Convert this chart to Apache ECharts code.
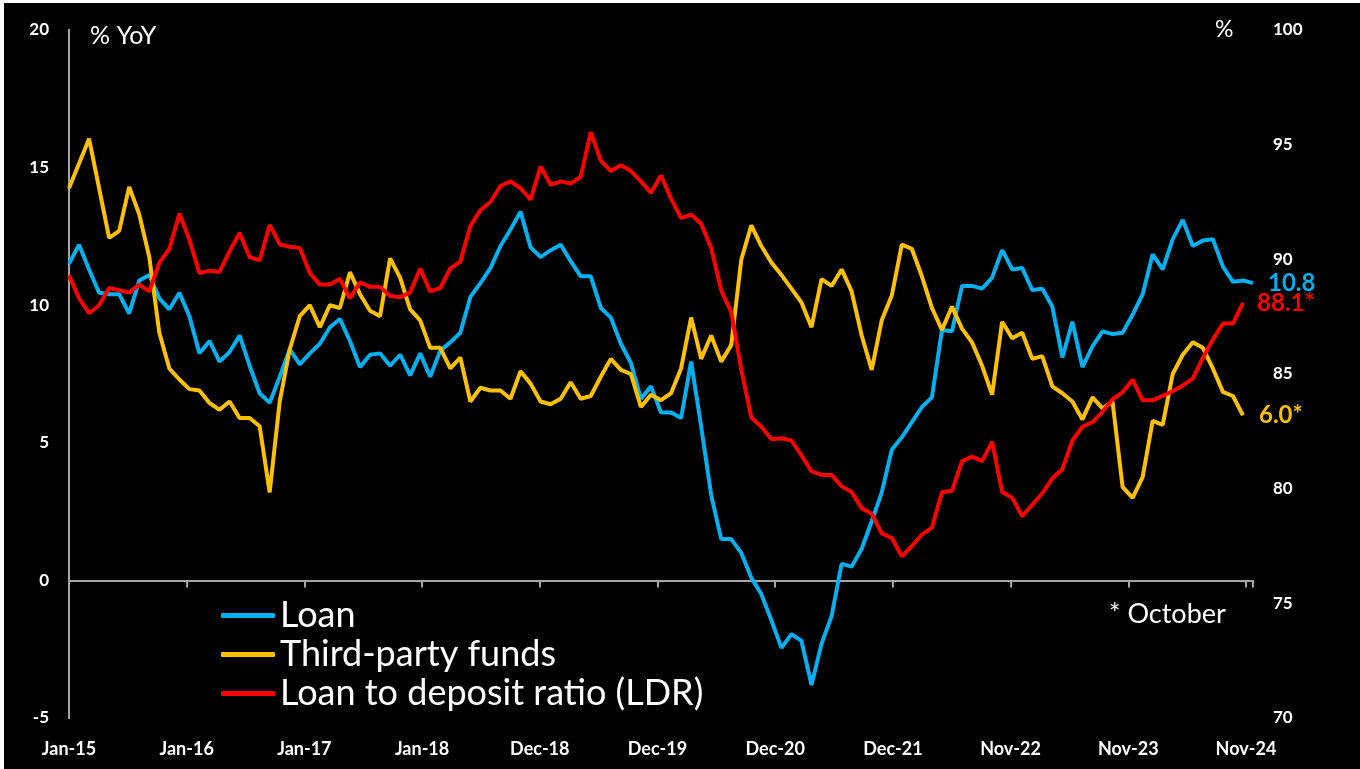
<!DOCTYPE html>
<html><head><meta charset="utf-8">
<script src="https://cdn.jsdelivr.net/npm/echarts@6/dist/echarts.min.js"></script>
<style>
html,body{margin:0;padding:0;background:#fff;width:1360px;height:769px;overflow:hidden;}
#c{position:absolute;left:4px;top:3px;width:1356px;height:766px;background:#000;}
</style></head><body><div id="c"></div>
<script>
// Monthly data, Jan-15 (index 0) to Nov-24 (index 118)
const tickLabels = ['Jan-15','Jan-16','Jan-17','Jan-18','Dec-18','Dec-19','Dec-20','Dec-21','Nov-22','Nov-23','Nov-24'];
const seriesNames = ['Loan','Third-party funds','Loan to deposit ratio (LDR)'];

const loan = [11.5,12.2,11.3,10.45,10.4,10.4,9.7,10.9,11.1,10.25,
 9.85,10.45,9.6,8.25,8.7,7.95,8.3,8.9,7.8,6.8,
 6.45,7.4,8.4,7.85,8.25,8.6,9.2,9.5,8.7,7.75,
 8.2,8.25,7.8,8.2,7.45,8.25,7.4,8.35,8.65,9.0,
 10.3,10.8,11.35,12.15,12.75,13.4,12.1,11.75,12.0,12.2,
 11.6,11.05,11.05,9.9,9.55,8.6,7.9,6.6,7.05,6.1,
 6.1,5.9,7.95,5.6,3.1,1.5,1.5,1.0,0.1,-0.5,
 -1.45,-2.45,-1.95,-2.2,-3.8,-2.3,-1.3,0.6,0.5,1.15,
 2.15,3.2,4.75,5.2,5.75,6.3,6.65,9.1,9.05,10.7,
 10.7,10.6,11.0,12.0,11.3,11.35,10.55,10.6,9.95,8.1,
 9.4,7.75,8.5,9.05,8.95,9.0,9.65,10.4,11.85,11.3,
 12.4,13.1,12.15,12.35,12.4,11.4,10.85,10.9,10.8];

const thirdPartyFunds = [14.25,15.15,16.05,14.25,12.45,12.7,14.3,13.3,11.75,9.0,
 7.7,7.3,6.95,6.9,6.45,6.2,6.5,5.9,5.9,5.6,
 3.2,6.5,8.4,9.6,10.0,9.2,10.0,9.9,11.2,10.4,
 9.8,9.6,11.7,11.0,9.85,9.45,8.45,8.45,7.7,8.1,
 6.5,7.0,6.9,6.9,6.6,7.6,7.15,6.5,6.4,6.6,
 7.2,6.6,6.7,7.4,8.05,7.65,7.5,6.3,6.75,6.55,
 6.8,7.7,9.55,8.05,8.9,7.95,8.55,11.65,12.9,12.15,
 11.55,11.1,10.6,10.1,9.2,10.95,10.7,11.3,10.5,8.9,
 7.65,9.45,10.35,12.2,12.05,11.05,9.9,9.1,9.95,9.15,
 8.65,7.8,6.75,9.4,8.8,9.0,8.05,8.15,7.05,6.8,
 6.5,5.85,6.65,6.25,6.5,3.4,3.0,3.75,5.8,5.65,
 7.5,8.2,8.65,8.45,7.7,6.85,6.7,6.0];

const ldr = [89.3,88.3,87.65,88.0,88.75,88.65,88.55,88.9,88.6,89.85,
 90.45,92.0,90.85,89.4,89.5,89.45,90.35,91.15,90.1,89.95,
 91.5,90.65,90.55,90.5,89.4,88.9,88.9,89.15,88.3,89.0,
 88.8,88.8,88.4,88.35,88.55,89.6,88.6,88.75,89.6,89.9,
 91.45,92.15,92.5,93.2,93.4,93.1,92.6,94.05,93.25,93.4,
 93.3,93.6,95.55,94.3,93.85,94.1,93.85,93.4,92.9,93.65,
 92.65,91.8,91.95,91.55,90.5,88.65,87.7,85.2,83.1,82.7,
 82.15,82.2,82.1,81.45,80.75,80.6,80.6,80.1,79.85,79.15,
 78.9,78.05,77.85,77.05,77.5,78.0,78.3,79.85,79.9,81.2,
 81.4,81.2,82.05,79.85,79.6,78.8,79.3,79.8,80.45,80.85,
 82.1,82.7,82.9,83.35,83.9,84.2,84.75,83.85,83.85,84.05,
 84.25,84.5,84.8,85.7,86.5,87.2,87.2,88.1];

const FONT = 'Lato';
const GREY = '#a6a6a6';
const toPairs = arr => arr.map((v, i) => [i, v]);
const X_MAX = 118, X_INT = 11.73;

const chart = echarts.init(document.getElementById('c'), null, {renderer: 'canvas'});
const xCommon = {type: 'value', min: 0, max: X_MAX, interval: X_INT, splitLine: {show: false}};
chart.setOption({
  backgroundColor: '#000',
  animation: false,
  textStyle: {fontFamily: FONT},
  grid: {left: 65, top: 27, width: 1184, height: 688},
  legend: {
    orient: 'vertical', left: 212, top: 588, itemGap: 0,
    itemWidth: 54, itemHeight: 5, icon: 'roundRect',
    textStyle: {color: '#fff', fontSize: 36, lineHeight: 39, fontFamily: FONT},
    data: seriesNames
  },
  xAxis: [
    Object.assign({}, xCommon, {
      position: 'bottom',
      axisLine: {show: true, onZero: true, onZeroAxisIndex: 0, lineStyle: {color: GREY, width: 2}},
      axisTick: {show: true, length: 7, lineStyle: {color: GREY, width: 2}},
      axisLabel: {show: false}
    }),
    Object.assign({}, xCommon, {
      position: 'bottom',
      axisLine: {show: false, onZero: false},
      axisTick: {show: false},
      axisLabel: {
        show: true, color: '#fff', fontSize: 18, fontWeight: 'bold', fontFamily: FONT, margin: 22,
        showMaxLabel: false,
        formatter: (v, idx) => tickLabels[idx] !== undefined ? tickLabels[idx] : ''
      }
    })
  ],
  yAxis: [
    {type: 'value', position: 'left', min: -5, max: 20, interval: 5,
     axisLine: {show: true, lineStyle: {color: GREY, width: 2}},
     axisTick: {show: false}, splitLine: {show: false},
     axisLabel: {color: '#fff', fontSize: 17, fontWeight: 'bold', fontFamily: FONT, margin: 20}},
    {type: 'value', position: 'right', min: 70, max: 100, interval: 5,
     axisLine: {show: true, lineStyle: {color: GREY, width: 2}},
     axisTick: {show: false}, splitLine: {show: false},
     axisLabel: {color: '#fff', fontSize: 17, fontWeight: 'bold', fontFamily: FONT, margin: 20}}
  ],
  graphic: [
    {type: 'text', left: 86, top: 20, style: {text: '% YoY', fill: '#fff', font: '25px Lato'}},
    {type: 'text', left: 1211, top: 15, style: {text: '%', fill: '#fff', font: '23px Lato'}},
    {type: 'text', left: 1105, top: 598, style: {text: '* October', fill: '#fff', font: '27px Lato'}}
  ],
  series: [
    {name: seriesNames[0], type: 'line', xAxisIndex: 0, yAxisIndex: 0, data: toPairs(loan),
     showSymbol: false, color: '#00b0f0', lineStyle: {width: 4, color: '#00b0f0'},
     endLabel: {show: true, distance: 15, color: '#00b0f0', fontSize: 24, fontWeight: 'bold', fontFamily: FONT,
       formatter: p => p.value[1].toFixed(1)}},
    {name: seriesNames[1], type: 'line', xAxisIndex: 0, yAxisIndex: 0, data: toPairs(thirdPartyFunds),
     showSymbol: false, color: '#ffc000', lineStyle: {width: 4, color: '#ffc000'},
     endLabel: {show: true, distance: 16, color: '#ffc000', fontSize: 24, fontWeight: 'bold', fontFamily: FONT,
       formatter: p => p.value[1].toFixed(1) + '*'}},
    {name: seriesNames[2], type: 'line', xAxisIndex: 0, yAxisIndex: 1, data: toPairs(ldr),
     showSymbol: false, color: '#ff0000', lineStyle: {width: 4, color: '#ff0000'},
     endLabel: {show: true, distance: 14, color: '#ff0000', fontSize: 24, fontWeight: 'bold', fontFamily: FONT,
       formatter: p => p.value[1].toFixed(1) + '*'}}
  ]
});
</script></body></html>
